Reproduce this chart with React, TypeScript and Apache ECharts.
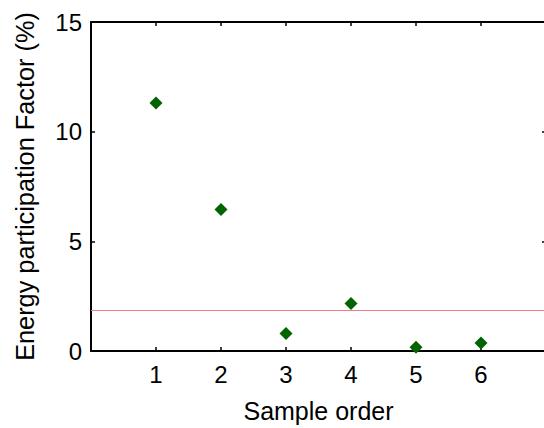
import React, { useEffect, useRef } from "react";
import * as echarts from "echarts";

// Sample order (x) and energy participation factor in percent (y)
const sampleOrder = [1, 2, 3, 4, 5, 6];
const participation = [11.31, 6.45, 0.8, 2.17, 0.17, 0.37];
const thresholdLevel = [1.88];
const xTickLabels = ["1", "2", "3", "4", "5", "6"];
const yTickValues = [0, 5, 10, 15];

const FONT = "Liberation Sans, Arial, sans-serif";

export default function App() {
  const ref = useRef<HTMLDivElement>(null);

  useEffect(() => {
    if (!ref.current) return;
    const chart = echarts.init(ref.current, undefined, { renderer: "svg" });

    const axisLine = { show: true, onZero: false, lineStyle: { color: "#000", width: 2 } };
    const tick = { show: true, inside: true, length: 4, lineStyle: { color: "#000", width: 1.5 } };

    chart.setOption({
      animation: false,
      backgroundColor: "#fff",
      grid: {
        left: 91,
        top: 22,
        width: 455,
        height: 329,
        containLabel: false,
        outerBoundsMode: "none",
      },
      xAxis: [
        {
          type: "value",
          min: 0,
          max: 7,
          interval: 1,
          position: "bottom",
          axisLine,
          axisTick: tick,
          splitLine: { show: false },
          axisLabel: {
            color: "#000",
            fontFamily: FONT,
            fontSize: 24,
            margin: 11,
            formatter: (v: number) => {
              const i = sampleOrder.indexOf(v);
              return i >= 0 ? xTickLabels[i] : "";
            },
          },
          name: "Sample order",
          nameLocation: "middle",
          nameGap: 47,
          nameTextStyle: { color: "#000", fontFamily: FONT, fontSize: 25 },
        },
        {
          type: "value",
          min: 0,
          max: 7,
          interval: 1,
          position: "top",
          axisLine,
          axisTick: tick,
          axisLabel: { show: false },
          splitLine: { show: false },
        },
      ],
      yAxis: [
        {
          type: "value",
          min: yTickValues[0],
          max: yTickValues[yTickValues.length - 1],
          interval: 5,
          position: "left",
          axisLine,
          axisTick: tick,
          splitLine: { show: false },
          axisLabel: { color: "#000", fontFamily: FONT, fontSize: 24, margin: 9 },
          name: "Energy participation Factor (%)",
          nameLocation: "middle",
          nameRotate: 90,
          nameGap: 54,
          nameTextStyle: { color: "#000", fontFamily: FONT, fontSize: 25.3 },
        },
        {
          type: "value",
          min: 0,
          max: 15,
          interval: 5,
          position: "right",
          axisLine,
          axisTick: tick,
          axisLabel: { show: false },
          splitLine: { show: false },
        },
      ],
      series: [
        {
          type: "scatter",
          symbol: "diamond",
          symbolSize: 13,
          itemStyle: { color: "#006400", opacity: 1 },
          data: sampleOrder.map((x, i) => [x, participation[i]]),
          markLine: {
            silent: true,
            symbol: "none",
            label: { show: false },
            lineStyle: { color: "#f08080", width: 1, type: "solid", opacity: 1 },
            data: thresholdLevel.map((v) => ({ yAxis: v })),
          },
        },
      ],
    });

    return () => chart.dispose();
  }, []);

  return (
    <div
      ref={ref}
      style={{ position: "fixed", left: 0, top: 0, width: 544, height: 428 }}
    />
  );
}
